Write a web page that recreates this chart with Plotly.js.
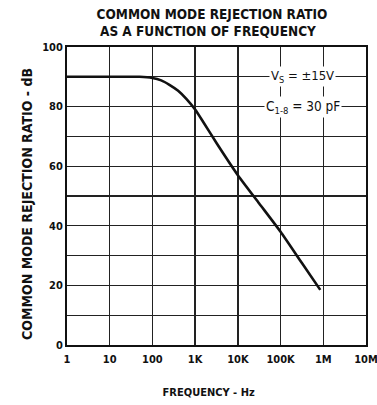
<!DOCTYPE html>
<html>
<head>
<meta charset="utf-8">
<script src="https://cdn.plot.ly/plotly-3.0.1.min.js"></script>
<style>
html,body{margin:0;padding:0;background:#fff;}
#chart{width:377px;height:405px;}
</style>
</head>
<body>
<div id="chart"></div>
<script>
// Curve data (frequency in Hz, CMRR in dB)
const frequencyHz = [1, 10, 50, 100, 160, 250, 400, 630, 1000, 1600, 3160, 10000, 31600, 100000, 316000, 850000];
const cmrrDb      = [90, 90, 90, 89.6, 88.8, 87.3, 85.3, 82.5, 79, 74.5, 67.8, 57, 47.5, 38, 27.5, 18.5];

const xTickVals = [1, 10, 100, 1000, 10000, 100000, 1000000, 10000000];
const xTickText = ['1', '10', '100', '1K', '10K', '100K', '1M', '10M'];
const yTickVals = [0, 20, 40, 60, 80, 100];
const yTickText = ['0', '20', '40', '60', '80', '100'];
const yMinorGridVals = [10, 30, 50, 70, 90];

const titleLine1 = 'COMMON MODE REJECTION RATIO';
const titleLine2 = 'AS A FUNCTION OF FREQUENCY';
const xTitle = 'FREQUENCY - Hz';
const yTitle = 'COMMON MODE REJECTION RATIO - dB';
const noteVs = 'V<sub>S</sub> = ±15V';
const noteC = 'C<sub>1-8</sub> = 30 pF';
const noteFreqHz = 330000;

const FONT = 'DejaVu Sans Condensed, DejaVu Sans, sans-serif';
const SP = '&nbsp;';

const trace = {
  x: frequencyHz,
  y: cmrrDb,
  type: 'scatter',
  mode: 'lines',
  line: {color: '#111', width: 2.6, shape: 'spline', smoothing: 0.5},
  hoverinfo: 'skip'
};

const layout = {
  width: 377,
  height: 405,
  margin: {l: 67, r: 11, t: 47, b: 60},
  paper_bgcolor: '#fff',
  plot_bgcolor: '#fff',
  showlegend: false,
  font: {family: FONT, color: '#111', size: 11},
  title: {
    text: '<b>' + titleLine1 + '</b>',
    font: {family: FONT, size: 13.5, color: '#111'},
    xref: 'container', x: 212 / 377, xanchor: 'center',
    yref: 'container', y: 1 - 14 / 405, yanchor: 'middle'
  },
  xaxis: {
    type: 'log',
    range: [0, 7],
    tickvals: xTickVals,
    ticktext: xTickText,
    tickfont: {family: FONT, size: 11, color: '#111', weight: 'bold'},
    ticks: '',
    ticklabelstandoff: 3,
    ticklabeloverflow: 'allow',
    showgrid: true,
    gridcolor: '#222',
    gridwidth: 1.3,
    showline: true,
    linecolor: '#111',
    linewidth: 2,
    mirror: true,
    zeroline: false,
    title: {text: '<b>' + xTitle + '</b>' + SP.repeat(5), font: {family: FONT, size: 11, color: '#111'}, standoff: 23}
  },
  yaxis: {
    range: [0, 100],
    tickvals: yTickVals,
    ticktext: yTickText,
    tickfont: {family: FONT, size: 11, color: '#111', weight: 'bold'},
    ticks: '',
    showgrid: true,
    gridcolor: '#222',
    gridwidth: 1.3,
    minor: {tickvals: yMinorGridVals, showgrid: true, gridcolor: '#222', gridwidth: 1.3, ticks: ''},
    showline: true,
    linecolor: '#111',
    linewidth: 2,
    mirror: true,
    zeroline: false,
    title: {text: '<b>' + yTitle + '</b>' + SP.repeat(4), font: {family: FONT, size: 14, color: '#111'}, standoff: 6}
  },
  annotations: [
    {
      xref: 'paper', yref: 'paper',
      x: (208 - 67) / 299, y: 1 + 16 / 298,
      xanchor: 'center', yanchor: 'middle',
      text: '<b>' + titleLine2 + '</b>', showarrow: false,
      font: {family: FONT, size: 13.5, color: '#111'}
    },
    {
      x: Math.log10(noteFreqHz), y: 90, xref: 'x', yref: 'y',
      text: noteVs, showarrow: false,
      bgcolor: '#fff', borderpad: 1,
      font: {family: FONT, size: 13, color: '#111'}
    },
    {
      x: Math.log10(noteFreqHz), y: 80, xref: 'x', yref: 'y',
      text: noteC, showarrow: false,
      bgcolor: '#fff', borderpad: 1,
      font: {family: FONT, size: 13.5, color: '#111'}
    }
  ]
};

Plotly.newPlot('chart', [trace], layout, {displayModeBar: false, staticPlot: true});
</script>
</body>
</html>
